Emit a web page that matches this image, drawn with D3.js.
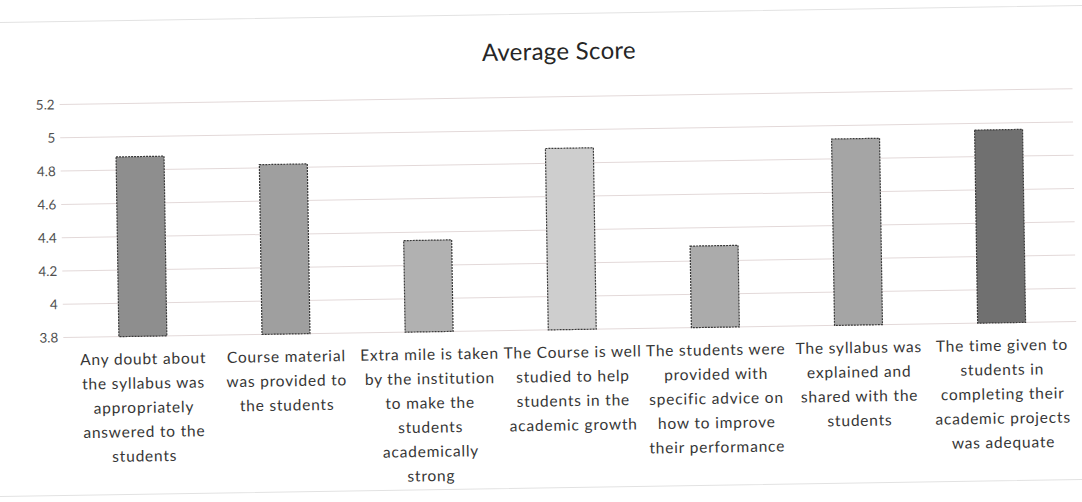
<!DOCTYPE html>
<html>
<head>
<meta charset="utf-8">
<script src="https://cdn.jsdelivr.net/npm/d3@7"></script>
<style>
  body { margin: 0; background: #fff; }
  svg { display: block; }
  text { font-family: Lato, "Open Sans", sans-serif; }
</style>
</head>
<body>
<div id="chart"></div>
<script>
// data
const categories = [
  'Any doubt about\nthe syllabus was\nappropriately\nanswered to the\nstudents',
  'Course material\nwas provided to\nthe students',
  'Extra mile is taken\nby the institution\nto make the\nstudents\nacademically\nstrong',
  'The Course is well\nstudied to help\nstudents in the\nacademic growth',
  'The students were\nprovided with\nspecific advice on\nhow to improve\ntheir performance',
  'The syllabus was\nexplained and\nshared with the\nstudents',
  'The time given to\nstudents in\ncompleting their\nacademic projects\nwas adequate'
];
const scores = [4.88, 4.82, 4.35, 4.89, 4.29, 4.92, 4.96];
const yTicks = [3.8, 4, 4.2, 4.4, 4.6, 4.8, 5, 5.2];
const yTickLabels = ['3.8', '4', '4.2', '4.4', '4.6', '4.8', '5', '5.2'];
const title = 'Average Score';

const width = 1082,
      height = 502;

const chart = {
  left: 70,
  right: 1072,
  top: 97,
  bottom: 330,
};

const greys = ['#8e8e8e', '#9f9f9f', '#b1b1b1', '#cecece', '#ababab', '#a5a5a5', '#707070'];
const color = d3.scaleOrdinal().domain(d3.range(categories.length)).range(greys);

const svg = d3.select('#chart')
              .append('svg')
              .attr('width', width)
              .attr('height', height);

// the photographed page sits slightly askew
const page = svg.append('g')
                .attr('transform', `rotate(-0.9, ${width / 2}, ${height / 2})`);

// chart frame (only top and bottom edges show in the photo)
page.append('rect')
    .attr('x', -20)
    .attr('y', 14)
    .attr('width', width + 40)
    .attr('height', 474)
    .attr('fill', 'none')
    .attr('stroke', '#e2e2e2');

const x = d3.scaleBand()
            .domain(d3.range(categories.length))
            .range([chart.left, chart.right])
            .paddingInner(0.665)
            .paddingOuter(0.3325);

const y = d3.scaleLinear()
            .domain([3.8, 5.2])
            .range([chart.bottom, chart.top]);

page.append('text')
    .attr('x', 562)
    .attr('y', 60)
    .attr('text-anchor', 'middle')
    .attr('font-size', 24)
    .attr('letter-spacing', 0.3)
    .attr('fill', '#262626')
    .text(title);

// gridlines
page.append('g')
    .selectAll('line')
    .data(yTicks)
    .enter()
    .append('line')
    .attr('x1', chart.left - 8)
    .attr('x2', chart.right + 3)
    .attr('y1', d => y(d))
    .attr('y2', d => y(d))
    .attr('stroke', '#e3d9d9')
    .attr('stroke-width', 1);

const yAxis = page.append('g')
                  .attr('transform', `translate(${chart.left}, 0)`)
                  .call(d3.axisLeft(y)
                          .tickValues(yTicks)
                          .tickFormat((d, i) => yTickLabels[i])
                          .tickSize(0)
                          .tickPadding(13));
yAxis.select('.domain').remove();
yAxis.selectAll('text')
     .attr('font-family', 'Lato, sans-serif')
     .attr('font-size', 13.5)
     .attr('fill', '#505050');

page.append('g')
    .selectAll('rect')
    .data(scores)
    .enter()
    .append('rect')
    .attr('x', (d, i) => x(i))
    .attr('y', d => y(d))
    .attr('width', x.bandwidth())
    .attr('height', d => y(3.8) - y(d))
    .attr('fill', (d, i) => color(i))
    .attr('stroke', '#3a3a3a')
    .attr('stroke-width', 1.2)
    .attr('stroke-dasharray', '2,1');

// category labels, broken the same way as the original
const labels = page.append('g')
                   .selectAll('text')
                   .data(categories)
                   .enter()
                   .append('text')
                   .attr('text-anchor', 'middle')
                   .attr('font-size', 15.5)
                   .attr('letter-spacing', 0.8)
                   .attr('fill', '#363636');

labels.each(function(d, i) {
  const lines = d.split('\n');
  d3.select(this)
    .selectAll('tspan')
    .data(lines)
    .enter()
    .append('tspan')
    .attr('x', x(i) + x.bandwidth() / 2)
    .attr('y', (l, j) => 358 + j * 24.3)
    .text(l => l);
});
</script>
</body>
</html>
